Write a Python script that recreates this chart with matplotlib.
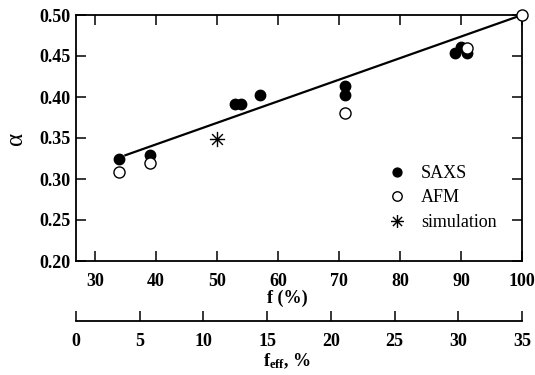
import matplotlib
matplotlib.use('Agg')
import matplotlib.pyplot as plt
from matplotlib.path import Path
import numpy as np

# data
saxs_f = [34, 39, 53, 54, 57, 71, 71, 89, 90, 91]
saxs_a = [0.324, 0.329, 0.391, 0.392, 0.402, 0.413, 0.403, 0.454, 0.461, 0.454]
afm_f = [34, 39, 71, 91, 100]
afm_a = [0.309, 0.319, 0.380, 0.460, 0.500]
sim_f = [50]
sim_a = [0.349]
fit_f = [35, 100]
fit_a = [0.329, 0.500]

xticks_f = [30, 40, 50, 60, 70, 80, 90, 100]
yticks_a = [0.20, 0.25, 0.30, 0.35, 0.40, 0.45, 0.50]
xticks_eff = [0, 5, 10, 15, 20, 25, 30, 35]

plt.rcParams['font.family'] = 'Liberation Serif'
plt.rcParams['mathtext.fontset'] = 'custom'
plt.rcParams['mathtext.rm'] = 'Liberation Serif:bold'
plt.rcParams['mathtext.it'] = 'Liberation Serif:bold'

# 8-armed asterisk marker
star = Path([(-1, 0), (1, 0), (0, -1), (0, 1),
             (-0.707, -0.707), (0.707, 0.707), (-0.707, 0.707), (0.707, -0.707)],
            [Path.MOVETO, Path.LINETO] * 4)

W, H = 535, 375
fig = plt.figure(figsize=(W / 100, H / 100), dpi=100)
ax = fig.add_axes([76 / W, 1 - 261 / H, (522 - 76) / W, (261 - 15) / H])

ax.plot(fit_f, fit_a, color='black', lw=1.6, zorder=2)
ax.plot(saxs_f, saxs_a, 'o', color='black', ms=7.5, ls='none', label='SAXS', zorder=3)
ax.plot(afm_f, afm_a, 'o', mfc='white', mec='black', mew=1.0, ms=8, ls='none',
        label='AFM', zorder=4, clip_on=False)
ax.plot(sim_f, sim_a, marker=star, color='black', ms=11, mew=1.0, ls='none',
        label='simulation', zorder=3)

ax.set_xlim(26.9, 100)
ax.set_ylim(0.2, 0.5)
ax.set_xticks(xticks_f)
ax.set_yticks(yticks_a)
ax.set_yticklabels(['%.2f' % v for v in yticks_a])
ax.tick_params(direction='in', length=7, width=1.1, top=True, right=True,
               labelsize=13, pad=9)
ax.tick_params(axis='y', pad=4)
for lab in ax.get_xticklabels() + ax.get_yticklabels():
    lab.set_fontweight('bold')
for s in ax.spines.values():
    s.set_linewidth(1.3)

ax.set_xlabel('f (%)', fontsize=13, fontweight='bold')
ax.xaxis.set_label_coords(0.473, -0.115)

leg = ax.legend(loc='upper left', bbox_to_anchor=(0.684, 0.42), frameon=False,
                fontsize=13, handlelength=1.0, handletextpad=0.82,
                labelspacing=0.42, markerscale=0.85, borderaxespad=0)

# second axis for f_eff
ax2 = fig.add_axes([76 / W, 1 - 321 / H, (522 - 76) / W, 0.0001])
ax2.set_xlim(0, 35)
ax2.set_xticks(xticks_eff)
ax2.set_yticks([])
for side in ['top', 'left', 'right']:
    ax2.spines[side].set_visible(False)
ax2.spines['bottom'].set_linewidth(1.3)
ax2.tick_params(axis='x', direction='out', length=7, width=1.1, labelsize=13, pad=1.5)
ax2.xaxis.set_ticks_position('bottom')
for lab in ax2.get_xticklabels():
    lab.set_fontweight('bold')
# ticks point upward from the line
for t in ax2.xaxis.get_major_ticks():
    t.tick1line.set_marker(matplotlib.markers.TICKUP)

fig.text(287 / W, 1 - 361 / H, r'$\mathrm{f_{eff}}$, %', fontsize=13,
         fontweight='bold', ha='center', va='center')
fig.text(16 / W, 1 - 138 / H, '\u03b1', fontsize=18, rotation=90,
         ha='center', va='center')

fig.savefig('out.png', dpi=100)
